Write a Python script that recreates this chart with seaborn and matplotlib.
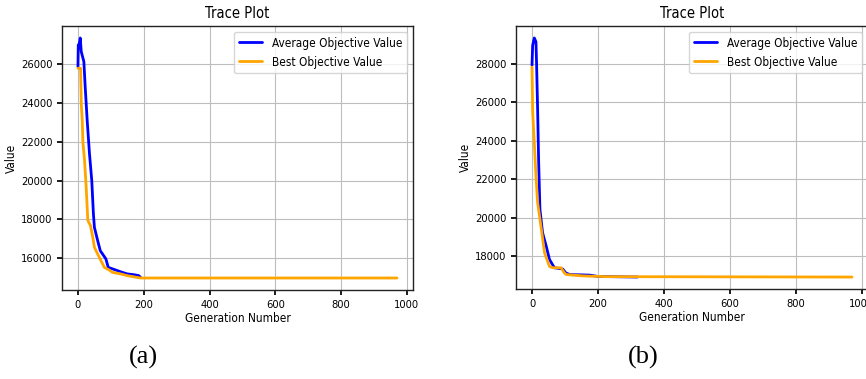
import matplotlib
matplotlib.use("Agg")
import matplotlib.pyplot as plt
import seaborn as sns
import pandas as pd

# ---- data ----
a_avg_gen = [0, 1, 4, 7, 10, 18, 22, 28, 35, 42, 47, 50, 60, 68, 75, 85, 92, 105, 120, 135, 150, 170, 185, 190]
a_avg_val = [25860, 26980, 27050, 27340, 26640, 26120, 24830, 23110, 21390, 20000, 18280, 17590, 16900, 16380,
             16210, 15960, 15530, 15450, 15360, 15270, 15190, 15150, 15100, 15020]
a_best_gen = [0, 8, 10, 13, 15, 20, 25, 30, 38, 45, 50, 60, 70, 80, 95, 105, 130, 150, 170, 190, 970]
a_best_val = [25780, 25780, 23970, 23110, 21990, 21040, 19660, 17940, 17680, 17080, 16560, 16210, 15870, 15530,
              15390, 15270, 15190, 15100, 15040, 14980, 14980]

b_avg_gen = [0, 2, 7, 12, 14, 17, 20, 24, 32, 43, 53, 68, 93, 102, 114, 175, 200, 320]
b_avg_val = [27910, 28950, 29330, 29130, 27910, 25660, 23050, 20450, 19230, 18540, 17840, 17410, 17350, 17150,
             17060, 17030, 16960, 16930]
b_best_gen = [0, 2, 7, 12, 17, 27, 38, 53, 63, 88, 98, 104, 154, 225, 970]
b_best_val = [27820, 25480, 23920, 22180, 20800, 19580, 18190, 17480, 17410, 17410, 17150, 17060, 16990, 16950, 16930]

series_names = ["Average Objective Value", "Best Objective Value"]
panel_labels = ["(a)", "(b)"]
a_yticks = [16000, 18000, 20000, 22000, 24000, 26000]
b_yticks = [18000, 20000, 22000, 24000, 26000, 28000]
x_ticks = [0, 200, 400, 600, 800, 1000]
W, H = 866, 379

sns.set_theme(style="ticks")
plt.rcParams["font.family"] = ["DejaVu Sans"]
plt.rcParams["font.stretch"] = "condensed"

fig = plt.figure(figsize=(W / 100, H / 100), dpi=100)
ax_a = fig.add_axes([62 / W, 1 - 290 / H, 351 / W, 264 / H])
ax_b = fig.add_axes([516 / W, 1 - 289 / H, 352 / W, 263 / H])


def draw(ax, ag, av, bg, bv, label, cx, yticks):
    df_avg = pd.DataFrame({"gen": ag, "val": av})
    df_best = pd.DataFrame({"gen": bg, "val": bv})
    sns.lineplot(data=df_avg, x="gen", y="val", ax=ax, color="blue", lw=2, label=series_names[0], zorder=3)
    sns.lineplot(data=df_best, x="gen", y="val", ax=ax, color="orange", lw=2, label=series_names[1], zorder=4)
    ax.set_title("Trace Plot", fontsize=10.5, color="black")
    ax.set_xlabel("Generation Number", fontsize=8.5, labelpad=1.5, color="black")
    ax.set_ylabel("Value", fontsize=8.5, labelpad=2, color="black")
    ax.set_xticks(x_ticks)
    ax.set_yticks(yticks)
    ax.tick_params(labelsize=8, length=3.5, color="black", labelcolor="black")
    ax.grid(True, color="#bdbdbd", lw=0.8)
    for s in ax.spines.values():
        s.set_color("#222222")
        s.set_linewidth(1)
    leg = ax.legend(loc="upper right", fontsize=8.5, frameon=True, fancybox=True, framealpha=0.8,
                    handlelength=2.0, borderpad=0.4, labelspacing=0.5)
    for t in leg.get_texts():
        t.set_color("black")
    fig.text(cx / W, 1 - 357 / H, label, ha="center", va="center", fontsize=19,
             family="Liberation Serif", color="black")


draw(ax_a, a_avg_gen, a_avg_val, a_best_gen, a_best_val, panel_labels[0], 143, a_yticks)
draw(ax_b, b_avg_gen, b_avg_val, b_best_gen, b_best_val, panel_labels[1], 643, b_yticks)

fig.savefig("out.png", dpi=100)
